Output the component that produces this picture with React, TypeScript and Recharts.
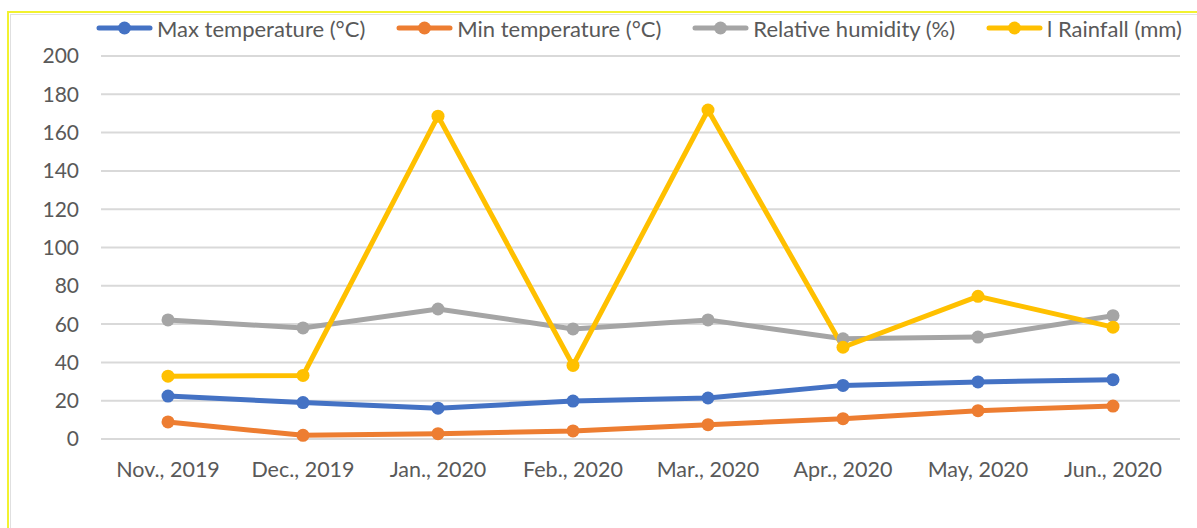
import React from "react";
import { LineChart, Line, XAxis, YAxis, CartesianGrid, Legend } from "recharts";

const months = ["Nov., 2019", "Dec., 2019", "Jan., 2020", "Feb., 2020", "Mar., 2020", "Apr., 2020", "May, 2020", "Jun., 2020"];
const maxTemp = [22.4, 19.0, 16.1, 19.8, 21.4, 28.0, 29.8, 31.0];
const minTemp = [8.9, 1.9, 2.8, 4.2, 7.5, 10.6, 14.8, 17.2];
const humidity = [62.2, 58.0, 67.9, 57.5, 62.2, 52.3, 53.2, 64.4];
const rainfall = [32.8, 33.2, 168.6, 38.4, 171.8, 47.9, 74.5, 58.4];
const yTicks = [0, 20, 40, 60, 80, 100, 120, 140, 160, 180, 200];

const seriesDefs = [
  { key: "max", name: "Max temperature (°C)", color: "#4472C4", values: maxTemp },
  { key: "min", name: "Min temperature (°C)", color: "#ED7D31", values: minTemp },
  { key: "hum", name: "Relative humidity (%)", color: "#A5A5A5", values: humidity },
  { key: "rain", name: "l Rainfall (mm)", color: "#FFC000", values: rainfall },
];

const data = months.map((m, i) => {
  const row: any = { month: m };
  seriesDefs.forEach((s) => (row[s.key] = s.values[i]));
  return row;
});

const FONT = "Lato, 'Open Sans', sans-serif";

const renderLegend = () => (
  <div style={{ display: "flex", justifyContent: "flex-start", alignItems: "center", gap: 31, paddingLeft: 96, fontFamily: FONT, fontSize: 22, color: "#595959", height: 22, whiteSpace: "nowrap" }}>
    {seriesDefs.map((s) => (
      <div key={s.key} style={{ display: "flex", alignItems: "center" }}>
        <svg width={57} height={14} style={{ marginRight: 4 }}>
          <line x1={3} y1={7} x2={54} y2={7} stroke={s.color} strokeWidth={5} strokeLinecap="round" />
          <circle cx={28.5} cy={7} r={6.5} fill={s.color} />
        </svg>
        <span>{s.name}</span>
      </div>
    ))}
  </div>
);

export default function App() {
  return (
    <div style={{ position: "absolute", left: 0, top: 0, width: 1197, height: 528, background: "#fff", overflow: "hidden" }}>
      <div style={{ position: "absolute", left: 7, top: 11, width: 1200, height: 530, borderTop: "2px solid #F2F230", borderLeft: "2px solid #F2F230" }} />
      <div style={{ position: "absolute", left: 10, top: 14, width: 1200, height: 530, borderTop: "1px solid #E0E0E0", borderLeft: "1px solid #E0E0E0" }} />
      <div style={{ position: "absolute", left: 0, top: 0 }}>
        <LineChart width={1197} height={528} data={data} margin={{ top: 34, right: 17, bottom: 59, left: 0 }}>
          <CartesianGrid vertical={false} stroke="#D9D9D9" strokeWidth={2} />
          <XAxis
            dataKey="month"
            height={30}
            padding={{ left: 67, right: 67 }}
            axisLine={{ stroke: "#D9D9D9", strokeWidth: 2 }}
            tickLine={false}
            tickSize={0}
            tickMargin={23}
            tick={{ fill: "#595959", fontSize: 21.5, fontFamily: FONT }}
            interval={0}
          />
          <YAxis
            width={101}
            domain={[0, 200]}
            ticks={yTicks}
            axisLine={false}
            tickLine={false}
            tickSize={0}
            tickMargin={22}
            tick={{ fill: "#595959", fontSize: 21, fontFamily: FONT }}
            interval={0}
          />
          <Legend verticalAlign="top" content={renderLegend} wrapperStyle={{ top: 17, left: 0, width: 1197 }} />
          {seriesDefs.map((s) => (
            <Line
              key={s.key}
              dataKey={s.key}
              name={s.name}
              stroke={s.color}
              strokeWidth={5}
              dot={{ r: 6.5, fill: s.color, stroke: s.color, strokeWidth: 0 }}
              activeDot={false}
              isAnimationActive={false}
            />
          ))}
        </LineChart>
      </div>
    </div>
  );
}
